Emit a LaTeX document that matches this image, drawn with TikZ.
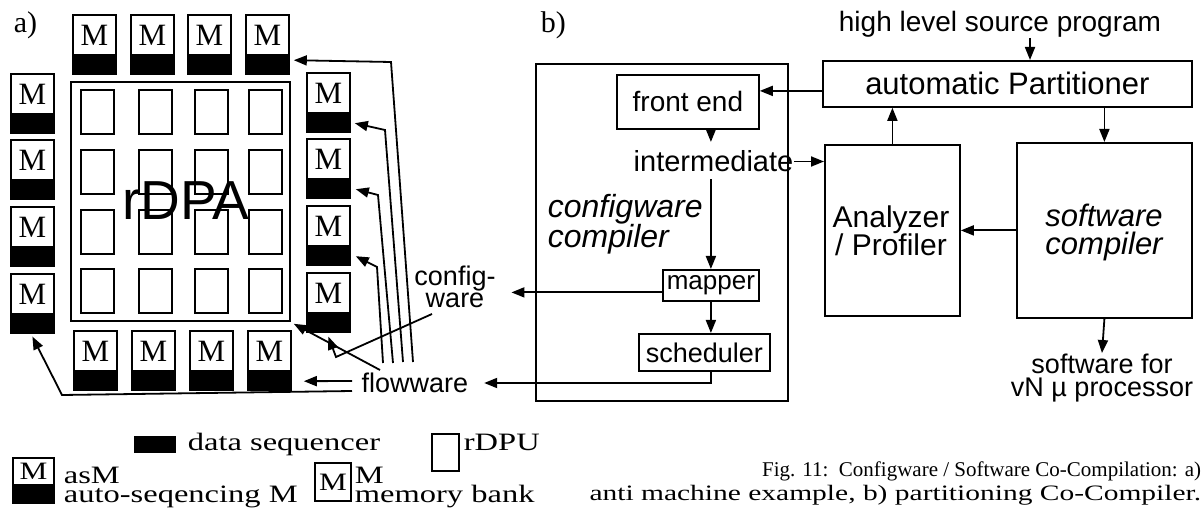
\documentclass[tikz,border=0pt]{standalone}
\usepackage{fontspec}
\usepackage{graphicx}
\setmainfont{Liberation Serif}
\newfontfamily\hsf{Liberation Sans}
\usetikzlibrary{arrows.meta,calc}
% auto-sequencing memory: M box with its data sequencer bar below
\newcommand\asmbox[3]{%
  \node[mwhite] (#1) at (#2,#3) {M};
  \node[mbar] (#1b) at (#1.south) {};}
\begin{document}
\begin{tikzpicture}[x=1pt,y=-1pt,line width=1.8pt,
  arr/.style={-{Triangle[length=13pt,width=10pt]}},
  mwhite/.style={draw,fill=white,minimum width=43pt,minimum height=40pt,inner sep=0pt,anchor=north west,font=\fontsize{31}{31}\selectfont},
  mbar/.style={draw,fill=black,minimum width=43pt,minimum height=17pt,inner sep=0pt,anchor=north},
  cell/.style={draw,minimum width=33pt,minimum height=44pt,inner sep=0pt,anchor=north west},
  box/.style={draw,inner sep=0pt,anchor=north west,align=center},
  lbl/.style={inner sep=0pt},
  legtxt/.style={inner sep=0pt,anchor=base west,font=\fontsize{25}{25}\selectfont}]
\useasboundingbox (0,0) rectangle (1204,518);
\fill[white] (0,0) rectangle (1204,518);

% ---------------- a) anti machine ----------------
\node[lbl,font=\fontsize{30}{30}\selectfont,anchor=base west] (pa) at (13,33) {a)};
\node[draw,inner sep=0pt,anchor=north west,minimum width=219pt,minimum height=239pt] (rdpa) at (70,81) {};
\foreach \x [count=\i] in {80,138,194,248}
  \foreach \y [count=\j] in {89,149,209,268}
    \node[cell] (c\i\j) at (\x,\y) {};
\node[lbl,font=\hsf\fontsize{55}{55}\selectfont] (rdpatxt) at (186,201) {rDPA};

\foreach \x [count=\i] in {72,130,187,245} {\asmbox{t\i}{\x}{14}}
\foreach \y [count=\i] in {73,139,206,273} {\asmbox{l\i}{10}{\y}}
\foreach \y [count=\i] in {72,138,205,272} {\asmbox{r\i}{306}{\y}}
\foreach \x [count=\i] in {73,131,189,247} {\asmbox{b\i}{\x}{330}}

\node[lbl,font=\hsf\fontsize{27}{22}\selectfont,align=center] (cw) at (455,287) {config-\\ware};
\node[lbl,font=\hsf\fontsize{27}{27}\selectfont] (fw) at (415,383) {flowware};

% flowware feeds of the right column and the top row
\coordinate (q1) at (403,362);
\coordinate (q2) at (393,363);
\coordinate (q3) at (383,363);
\coordinate (q4) at (413,362);
\draw[arr] (q4) -- (391,62) -- ([xshift=4pt,yshift=5pt]t4b.east);
\draw[arr] (q1) -- (385,130) -- ([xshift=4pt]r1b.east);
\draw[arr] (q2) -- (378,195) -- ([xshift=5pt]r2b.east);
\draw[arr] (q3) -- (377,267) -- ([xshift=5pt]r3b.east);
% configware into the array
\coordinate (cwfoot) at (432,314);
\draw[arr] (cwfoot) -- (336,357) -- ([yshift=-4pt]r4b.south);
% flowware to the array, bottom row and left column
\coordinate (fwa) at (380,370);
\draw[arr] (fwa) -- ([xshift=3pt,yshift=-2pt]rdpa.south east);
\coordinate (fwb) at (352,381);
\draw[arr] (fwb) -- ([xshift=12pt]b4b.east);
\coordinate (fwc) at (352,391);
\draw[arr] (fwc) -- (62,395) -- ([yshift=-3pt]l4b.south);

% ---------------- b) partitioning co-compiler ----------------
\node[lbl,font=\fontsize{30}{30}\selectfont,anchor=base west] (pb) at (540,33) {b)};
\node[box,minimum width=252pt,minimum height=337pt] (cc) at (535,63) {};
\node[lbl,font=\hsf\fontsize{28}{28}\selectfont] (hl) at (1000,24) {high level source program};
\node[box,minimum width=369pt,minimum height=46pt,font=\hsf\fontsize{31}{31}\selectfont] (part) at (822,60) {automatic Partitioner};
\node[box,minimum width=142pt,minimum height=54pt,font=\hsf\fontsize{28}{28}\selectfont] (fe) at (616,74) {front end};
\node[lbl,font=\hsf\fontsize{29}{29}\selectfont] (im) at (713.5,161.5) {intermediate};
\node[lbl,anchor=north west,align=left,font=\hsf\itshape\fontsize{32}{29}\selectfont] (cwc) at (547,193) {configware\\compiler};
\node[box,minimum width=96pt,minimum height=31pt,font=\hsf\fontsize{26}{26}\selectfont] (mp) at (662,269) {mapper};
\node[box,minimum width=131pt,minimum height=37pt,font=\hsf\fontsize{27}{27}\selectfont] (sc) at (638,333) {scheduler};
\node[box,minimum width=135pt,minimum height=171pt] (an) at (824,144) {};
\node[lbl,align=center,font=\hsf\fontsize{30}{28}\selectfont] (antxt) at (891,231) {Analyzer\\/ Profiler};
\node[box,minimum width=175pt,minimum height=175pt] (sw) at (1016,142) {};
\node[lbl,align=center,font=\hsf\itshape\fontsize{31}{28}\selectfont] (swtxt) at (1104,232) {software\\compiler};
\node[lbl,align=center,font=\hsf\fontsize{27}{23}\selectfont] (swo) at (1102,378) {software for\\vN µ processor};

\coordinate (hlx) at ($(hl.south)+(30,0)$);
\draw[arr] (hlx) -- (hlx |- part.north);
\coordinate (pw) at ($(part.west)+(0,7)$);
\draw[arr] (pw) -- (pw -| fe.east);
\draw[arr,shorten >=8pt] (fe.south -| mp.north) -- (im.north -| mp.north);
\draw[arr] (im.east) -- (im.east -| an.west);
\draw[arr,shorten <=6pt] (im.south -| mp.north) -- (mp.north);
\draw[arr] (mp.south) -- (mp.south |- sc.north);
\coordinate (mpw) at ($(mp.west)+(0,7)$);
\coordinate (cwe) at ($(cw.east)+(15,0)$);
\draw[arr] (mpw) -- (mpw -| cwe);
\coordinate (fwe) at ($(fw.east)+(15,0)$);
\draw[arr] (sc.south -| mp.south) |- (fwe);
\draw[arr] (an.north) -- (an.north |- part.south);
\draw[arr] (part.south -| sw.north) -- (sw.north);
\draw[arr] (sw.west) -- (sw.west -| an.east);
\draw[arr] (sw.south) -- (swo.north);

% ---------------- legend ----------------
\node[fill=black,minimum width=42pt,minimum height=17pt,inner sep=0pt,anchor=north west] (ds) at (133,435) {};
\node[legtxt] (dstxt) at (187,450) {\scalebox{1.3}[1]{data sequencer}};
\node[draw,minimum width=27pt,minimum height=37pt,inner sep=0pt,anchor=north west] (pu) at (431,433) {};
\node[legtxt] (putxt) at (463,450) {\scalebox{1.3}[1]{rDPU}};
\node[draw,fill=white,minimum width=41pt,minimum height=27pt,inner sep=0pt,anchor=north west,font=\fontsize{25}{25}\selectfont] (lg) at (12,457) {\scalebox{1.25}[1]{M}};
\node[draw,fill=black,minimum width=41pt,minimum height=16pt,inner sep=0pt,anchor=north] (lgb) at (lg.south) {};
\node[legtxt] (asmtxt) at (63,483) {\scalebox{1.3}[1]{asM}};
\node[legtxt] (astxt) at (63,502) {\scalebox{1.3}[1]{auto-seqencing M}};
\node[draw,minimum width=36pt,minimum height=38pt,inner sep=0pt,anchor=north west,font=\fontsize{25}{25}\selectfont] (lm) at (314,462) {\scalebox{1.25}[1]{M}};
\node[legtxt] (mtxt) at (354,483) {\scalebox{1.3}[1]{M}};
\node[legtxt] (mbtxt) at (354,502) {\scalebox{1.3}[1]{memory bank}};

% ---------------- caption ----------------
\node[lbl,anchor=base east,font=\fontsize{21}{21}\selectfont] (cap1) at (1202,476) {Fig. 11:\ \ Configware / Software Co-Compilation: a)};
\node[lbl,anchor=base east,font=\fontsize{22}{22}\selectfont] (cap2) at (1202,500) {\scalebox{1.34}[1]{anti machine example, b) partitioning Co-Compiler.}};
\end{tikzpicture}
\end{document}
